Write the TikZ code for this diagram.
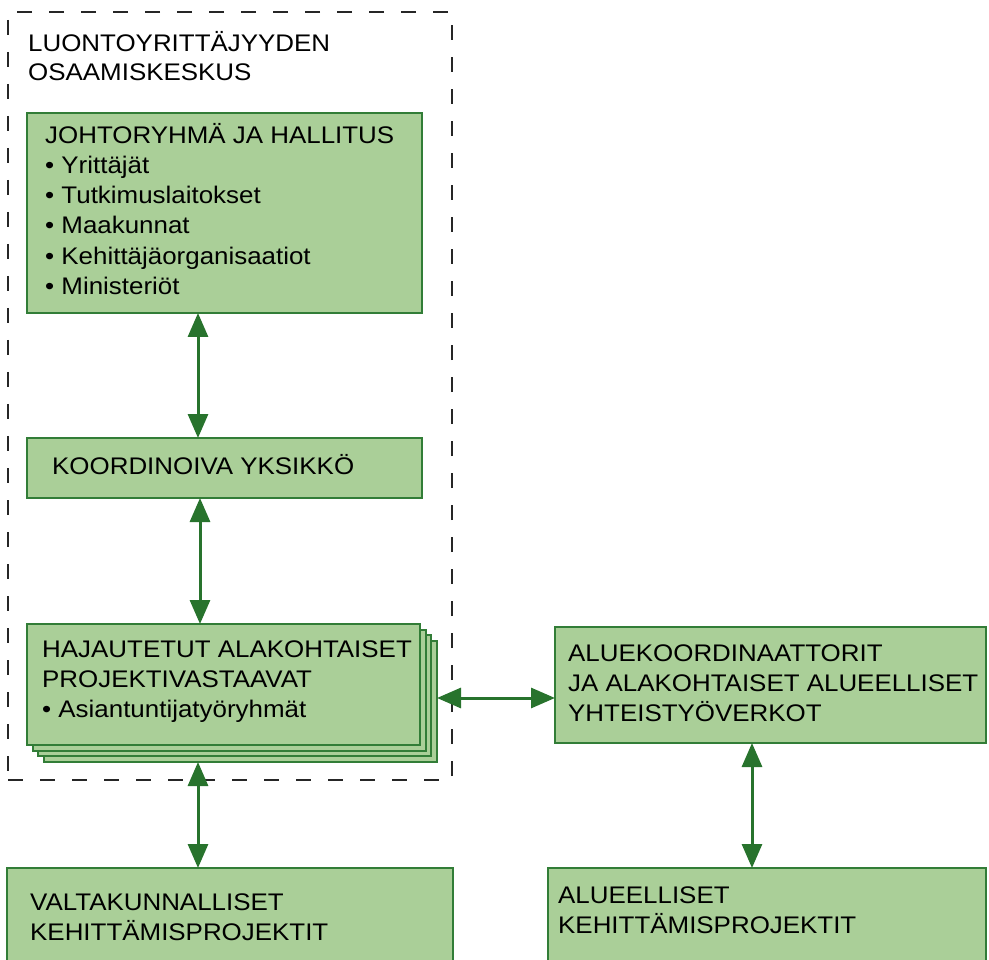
\documentclass[tikz,border=0pt]{standalone}
\usepackage{fontspec}
\setmainfont{Liberation Sans}[FakeStretch=1.08]
\usetikzlibrary{arrows.meta}
\definecolor{boxfill}{RGB}{170,207,152}
\definecolor{boxline}{RGB}{50,125,55}
\definecolor{arrowc}{RGB}{40,115,45}
\begin{document}
\begin{tikzpicture}[x=1pt,y=-1pt,
  txt/.style={anchor=base west, inner sep=0pt, font=\fontsize{24}{30}\selectfont},
  gbox/.style={draw=boxline, fill=boxfill, line width=2pt, anchor=north west, inner sep=0pt, outer sep=0pt},
  zone/.style={draw=black!85, line width=2pt, dash pattern=on 15pt off 17pt, anchor=north west, inner sep=0pt, outer sep=0pt},
  arr/.style={draw=arrowc, line width=3pt, {Triangle[width=20pt,length=24pt]}-{Triangle[width=20pt,length=24pt]}, fill=arrowc}
]
\path[use as bounding box] (0,0) rectangle (989,960);
\clip (0,0) rectangle (989,960);

% dashed frame
\node[zone, minimum width=444pt, minimum height=768pt] (frame) at (8,12) {};
\node[txt] (title1) at (28,52) {LUONTOYRITTÄJYYDEN};
\node[txt] (title2) at (28,81) {OSAAMISKESKUS};

% box 1
\node[gbox, minimum width=395pt, minimum height=200pt] (b1) at (27,113) {};
\node[txt] (b1t0) at (45,144) {JOHTORYHMÄ JA HALLITUS};
\node[txt] (b1t1) at (45,174) {• Yrittäjät};
\node[txt] (b1t2) at (45,204) {• Tutkimuslaitokset};
\node[txt] (b1t3) at (45,234) {• Maakunnat};
\node[txt] (b1t4) at (45,265) {• Kehittäjäorganisaatiot};
\node[txt] (b1t5) at (45,295) {• Ministeriöt};

% box 2
\node[gbox, minimum width=395pt, minimum height=60pt] (b2) at (27,438) {};
\node[txt] (b2t) at (52,474) {KOORDINOIVA YKSIKKÖ};

% box 3 stack
\node[gbox, minimum width=393pt, minimum height=121pt] (b3c) at (44,641) {};
\node[gbox, minimum width=393pt, minimum height=121pt] (b3b) at (38.3,635.3) {};
\node[gbox, minimum width=393pt, minimum height=121pt] (b3a) at (32.7,629.7) {};
\node[gbox, minimum width=393pt, minimum height=121pt] (b3) at (27,624) {};
\node[txt] (b3t1) at (42,657) {HAJAUTETUT ALAKOHTAISET};
\node[txt] (b3t2) at (42,687) {PROJEKTIVASTAAVAT};
\node[txt] (b3t3) at (42,717) {• Asiantuntijatyöryhmät};

% box 4
\node[gbox, minimum width=446pt, minimum height=110pt] (b4) at (7,868) {};
\node[txt] (b4t1) at (30,910) {VALTAKUNNALLISET};
\node[txt] (b4t2) at (30,940) {KEHITTÄMISPROJEKTIT};

% box 5
\node[gbox, minimum width=431pt, minimum height=116pt] (b5) at (555,627) {};
\node[txt] (b5t1) at (568,661) {ALUEKOORDINAATTORIT};
\node[txt] (b5t2) at (568,691) {JA ALAKOHTAISET ALUEELLISET};
\node[txt] (b5t3) at (568,721) {YHTEISTYÖVERKOT};

% box 6
\node[gbox, minimum width=438pt, minimum height=110pt] (b6) at (548,868) {};
\node[txt] (b6t1) at (558,903) {ALUEELLISET};
\node[txt] (b6t2) at (558,933) {KEHITTÄMISPROJEKTIT};

% connectors
\draw[arr] ([xshift=171pt]b1.south west) -- ([xshift=171pt]b2.north west);
\draw[arr] ([xshift=173pt]b2.south west) -- ([xshift=173pt]b3.north west);
\draw[arr] ([xshift=154pt]b3c.south west) -- ([xshift=191pt]b4.north west);
\draw[arr] ([yshift=-57pt]b3c.north east) -- ([yshift=-71pt]b5.north west);
\draw[arr] ([xshift=197pt]b5.south west) -- ([xshift=204pt]b6.north west);
\end{tikzpicture}
\end{document}
